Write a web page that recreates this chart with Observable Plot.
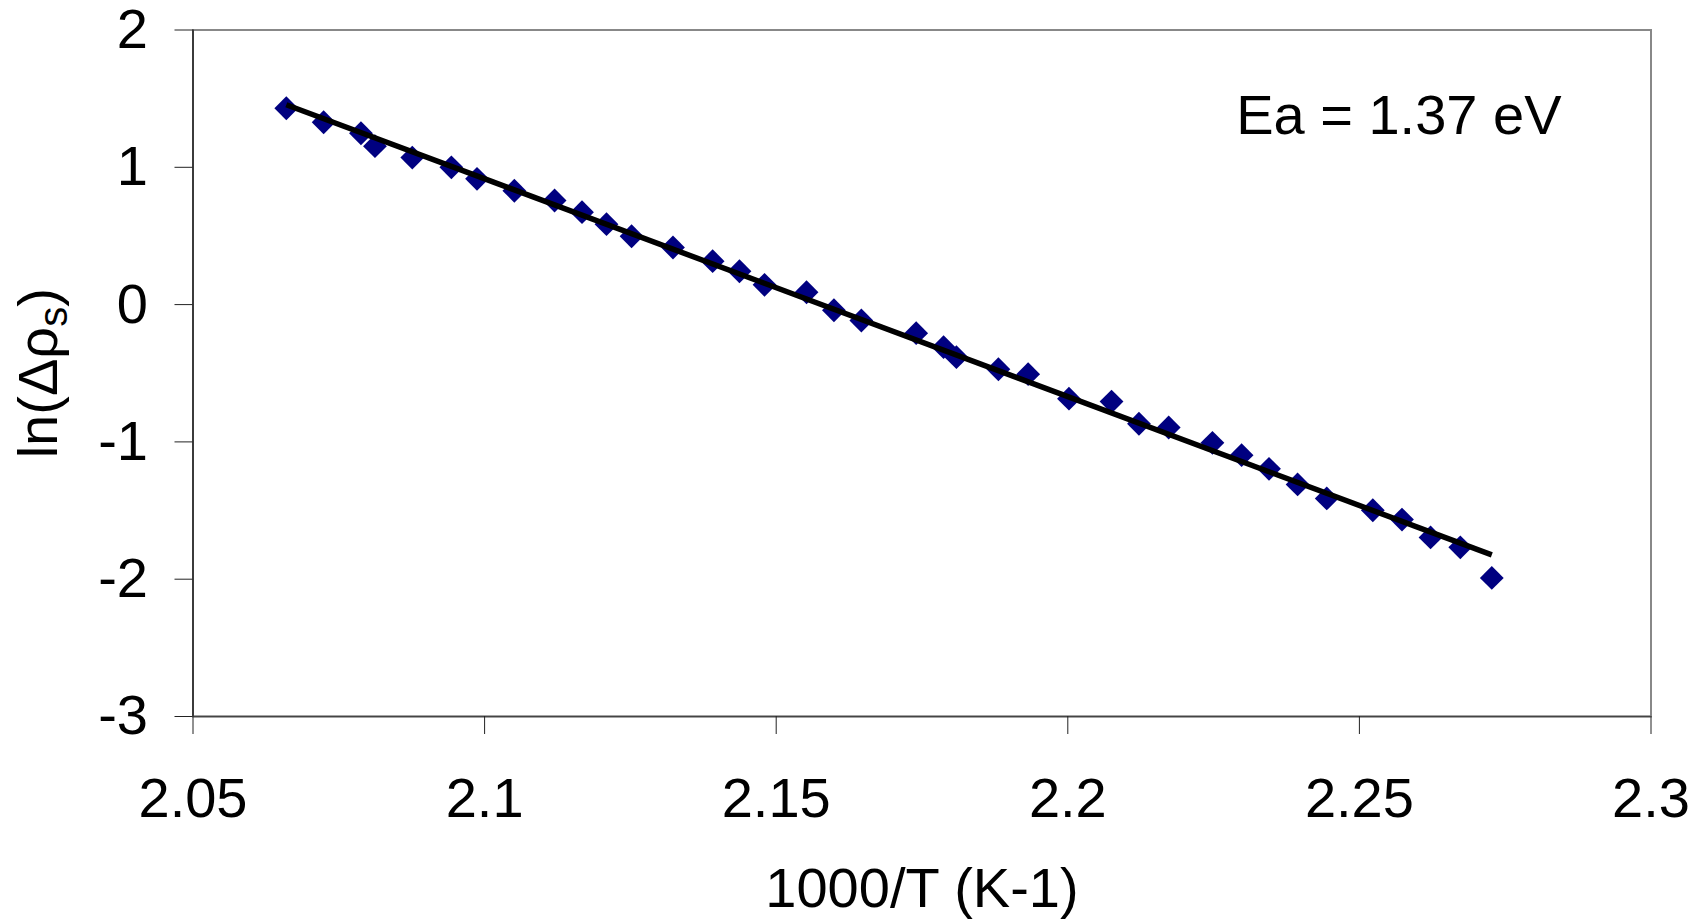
<!DOCTYPE html>
<html>
<head>
<meta charset="utf-8">
<script src="https://cdn.jsdelivr.net/npm/d3@7"></script>
<script src="https://cdn.jsdelivr.net/npm/@observablehq/plot@0.6"></script>
<style>
  html, body { margin: 0; padding: 0; background: #fff; }
  #chart { width: 1706px; height: 920px; }
</style>
</head>
<body>
<div id="chart"></div>
<script>
// 1000/T (K^-1)
const invT = [
  2.0660, 2.0724, 2.0788, 2.0812, 2.0876, 2.0943, 2.0987, 2.1051, 2.1120, 2.1167,
  2.1209, 2.1252, 2.1323, 2.1391, 2.1437, 2.1480, 2.1552, 2.1599, 2.1646, 2.1740,
  2.1787, 2.1809, 2.1881, 2.1932, 2.2002, 2.2075, 2.2122, 2.2173, 2.2248, 2.2298,
  2.2345, 2.2394, 2.2444, 2.2523, 2.2573, 2.2622, 2.2673, 2.2727
];
// ln(Δρs)
const lnDrho = [
  1.430, 1.328, 1.248, 1.154, 1.071, 1.000, 0.916, 0.829, 0.758, 0.673,
  0.586, 0.498, 0.416, 0.316, 0.243, 0.144, 0.090, -0.041, -0.116, -0.208,
  -0.310, -0.383, -0.471, -0.507, -0.685, -0.706, -0.868, -0.895, -1.007, -1.097,
  -1.196, -1.310, -1.412, -1.498, -1.566, -1.696, -1.768, -1.991
];
const xTicks = [2.05, 2.1, 2.15, 2.2, 2.25, 2.3];
const yTicks = [-3, -2, -1, 0, 1, 2];
const xLabel = "1000/T (K-1)";
const yLabel = "ln(Δρs)";
const annotation = "Ea = 1.37 eV";

const data = invT.map((x, i) => ({x, y: lnDrho[i]}));

// least-squares trend line over the data's x extent
const mx = d3.mean(invT), my = d3.mean(lnDrho);
const slope = d3.sum(invT, (x, i) => (x - mx) * (lnDrho[i] - my)) / d3.sum(invT, x => (x - mx) ** 2);
const trend = d3.extent(invT).map(x => ({x, y: my + slope * (x - mx)}));

const diamond = {
  draw(context, size) {
    const h = Math.sqrt(size / 2);
    context.moveTo(0, -h);
    context.lineTo(h, 0);
    context.lineTo(0, h);
    context.lineTo(-h, 0);
    context.closePath();
  }
};

const FONT = "56px";

const chart = Plot.plot({
  width: 1706,
  height: 920,
  marginLeft: 192.5,
  marginRight: 55.5,
  marginTop: 29.5,
  marginBottom: 204,
  style: {fontFamily: "'Liberation Sans', Arial, sans-serif", fontSize: FONT, color: "black", background: "white"},
  x: {domain: [2.05, 2.3], ticks: xTicks, tickFormat: d => String(d), tickSize: 18, tickPadding: 43, label: null},
  y: {domain: [-3, 2], ticks: yTicks, tickFormat: d => String(d), tickSize: 18, tickPadding: 27, label: null},
  marks: [
    Plot.frame({stroke: "#888", strokeWidth: 2}),
    Plot.ruleX([2.05], {stroke: "#222", strokeWidth: 1.5}),
    Plot.ruleY([-3], {stroke: "#444", strokeWidth: 1.5}),
    Plot.axisX({ticks: xTicks, tickFormat: d => String(d), tickSize: 18, tickPadding: 43, fontSize: FONT, stroke: "#222", label: null}),
    Plot.axisY({ticks: yTicks, tickFormat: d => String(d), tickSize: 18, tickPadding: 27, fontSize: FONT, stroke: "#222", label: null}),
    Plot.dot(data, {x: "x", y: "y", symbol: diamond, r: 9.5, fill: "#000080", stroke: "none"}),
    Plot.line(trend, {x: "x", y: "y", stroke: "black", strokeWidth: 5.5, strokeLinecap: "butt"}),
    Plot.text([xLabel], {frameAnchor: "bottom", lineAnchor: "top", dy: 151, fontSize: FONT, fill: "black"}),
    Plot.text([yLabel], {frameAnchor: "left", textAnchor: "middle", rotate: -90, lineAnchor: "top", dx: -175.5, fontSize: FONT, fill: "black"}),
    Plot.text([annotation], {frameAnchor: "top-right", textAnchor: "end", lineAnchor: "top", dx: -89.5, dy: 64.5, fontSize: FONT, fill: "black"})
  ]
});

document.getElementById("chart").appendChild(chart);

// subscript "s" in the y label
chart.querySelectorAll("text").forEach(t => {
  if (t.textContent === yLabel) {
    t.textContent = "";
    const ns = "http://www.w3.org/2000/svg";
    t.appendChild(document.createTextNode("ln(Δρ"));
    const s = document.createElementNS(ns, "tspan");
    s.setAttribute("font-size", "40px");
    s.setAttribute("dy", "10");
    s.textContent = "s";
    t.appendChild(s);
    const p = document.createElementNS(ns, "tspan");
    p.setAttribute("dy", "-10");
    p.textContent = ")";
    t.appendChild(p);
  }
});
</script>
</body>
</html>
